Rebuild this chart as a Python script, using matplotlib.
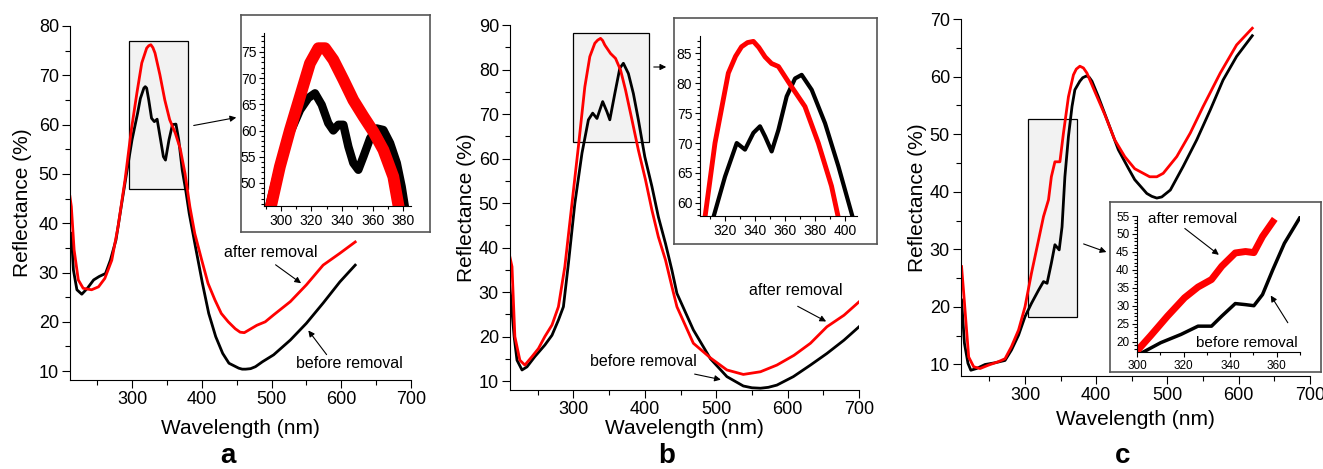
import matplotlib
matplotlib.use("Agg")
import matplotlib.pyplot as plt
from matplotlib.patches import Rectangle, FancyArrowPatch
from matplotlib.ticker import MultipleLocator

plt.rcParams['font.family'] = ['Liberation Sans', 'DejaVu Sans']

# ---- panel a ----
a_before_wl = [211, 213, 216, 221, 228, 236, 245, 253, 262, 269, 277, 286, 293, 300, 308, 312, 317, 319, 321,
               324, 328, 332, 336, 341, 345, 348, 353, 358, 363, 367, 372, 377, 382, 391, 401, 410, 420,
               430, 439, 453, 458, 463, 470, 477, 487, 503, 527, 550, 574, 598, 620]
a_before = [35, 38, 30.5, 26.5, 25.6, 26.8, 28.5, 29.2, 29.8, 32.5, 36.6, 44.7, 50.8, 56.9, 62.3, 65.3, 67.4, 67.7,
            67.4, 65, 61.3, 60.6, 61.1, 56.9, 53.5, 52.8, 56.9, 60, 60.1, 56.9, 50.8, 46.7, 42, 35.2, 27.8, 21.7,
            17, 13.6, 11.6, 10.6, 10.4, 10.4, 10.5, 10.9, 11.9, 13.3, 16.3, 19.7, 23.8, 28.1, 31.5]
a_after_wl = [211, 213, 217, 223, 230, 242, 252, 261, 271, 280, 290, 299, 307, 314, 321, 324, 327, 330, 333,
              340, 347, 354, 362, 369, 376, 383, 390, 400, 409, 419, 428, 438, 448, 455, 461, 467, 479, 491,
              503, 527, 550, 574, 598, 620]
a_after = [45.4, 43.4, 34.6, 28.5, 26.8, 26.5, 27.1, 28.8, 32.5, 39.3, 48.8, 58.9, 66.4, 72.5, 75.5, 76.0, 76.2,
           75.6, 74.5, 70.1, 65, 61, 58.3, 55.2, 50.1, 43.3, 37.9, 32.5, 27.8, 24.4, 21.7, 20, 18.6, 17.9, 17.8,
           18.3, 19.3, 20, 21.4, 24.1, 27.5, 31.5, 33.9, 36.2]
# inset a
ia_before_wl = [290, 299.3, 305.9, 312.5, 317.9, 322.3, 326.7, 331, 334.3, 337.6, 340.9, 344.2, 347.4, 350.7,
                354, 358.4, 362.7, 367.1, 371.5, 375.9, 379.1, 382]
ia_before = [43, 53.7, 59.5, 63.9, 66.2, 67.1, 64.9, 61.4, 60, 61.1, 61.1, 56.9, 53.8, 52.5, 55, 58.5, 60.4,
             60.1, 57.6, 53.8, 49.3, 44]
ia_after_wl = [291.5, 299.3, 305.9, 312.5, 319, 324.5, 328.9, 334.3, 340.9, 347.4, 354, 360.5, 367.1, 373.6, 378]
ia_after = [43, 53.1, 60.1, 66.5, 72.8, 75.7, 75.7, 73.5, 69.7, 65.8, 62.7, 59.8, 56.3, 51.2, 44]

# ---- panel b ----
b_before_wl = [211, 217, 221, 228, 235, 246, 260, 270, 279, 286, 293, 302, 312, 321, 327, 333, 341, 347, 351,
               358, 365, 370, 377, 384, 391, 400, 410, 419, 429, 438, 445, 468, 492, 515, 538, 550, 562, 573,
               585, 608, 632, 655, 679, 700]
b_before = [31.2, 20, 14.7, 12.5, 13.2, 15.5, 18.1, 20.3, 23.7, 26.7, 36.4, 49.9, 61.2, 68.7, 70.2, 69, 72.8,
            70.5, 68.7, 74.6, 80.3, 81.4, 79.1, 74.6, 68.7, 60.4, 53.7, 46.9, 40.9, 34.9, 29.7, 21.5, 15.0, 11,
            8.9, 8.5, 8.4, 8.6, 9.1, 11, 13.6, 16.2, 19.2, 22.2]
b_after_wl = [211, 214, 218, 225, 232, 242, 251, 260, 270, 279, 288, 298, 307, 316, 323, 330, 334, 338, 341,
              344, 352, 359, 366, 373, 382, 391, 401, 410, 419, 429, 438, 445, 468, 492, 515, 538, 562, 585,
              609, 632, 655, 679, 700]
b_after = [37.9, 35.7, 20, 14.7, 13.6, 15.5, 17.3, 20, 22.6, 26.7, 35.7, 49.9, 62.7, 76.1, 82.9, 85.9, 86.6, 87,
           86.5, 85.5, 83.6, 82.5, 79.9, 75.4, 68.7, 61.9, 55.2, 48.4, 42.4, 37.2, 31.2, 26.7, 18.5, 15.2, 12.5,
           11.5, 12.1, 13.6, 15.8, 18.5, 22.2, 24.8, 27.8]
# inset b
ib_before_wl = [311, 320, 327.8, 333.3, 338.9, 343.3, 346.7, 351.1, 355.6, 361.1, 366.7, 371.1, 377.8,
                386.7, 395.6, 406]
ib_before = [56.5, 64.4, 70, 68.9, 71.7, 72.8, 71.1, 68.6, 72.2, 77.8, 80.8, 81.4, 78.9, 73.3, 66.1, 56.8]
ib_after_wl = [305.5, 313.3, 322.2, 327, 331, 335, 338.9, 342.5, 346.7, 351, 355.6, 364.4, 373.3, 382.2, 391, 396]
ib_after = [55.5, 70, 81.7, 84.5, 86.1, 86.8, 87, 86, 84.4, 83.3, 82.8, 79.4, 76.1, 70, 62.8, 57]

# ---- panel c ----
c_before_wl = [211, 215, 220, 224, 232, 244, 258, 272, 281, 291, 300, 309, 319, 326, 331, 337, 342, 348, 352,
               356, 361, 366, 370, 377, 381, 386, 390, 394, 403, 417, 431, 445, 454, 471, 478, 485, 492, 504,
               522, 541, 560, 578, 597, 619]
c_before = [21.2, 13.7, 10.2, 9.0, 9.3, 10, 10.3, 10.7, 12.5, 15.1, 18.3, 20.6, 22.9, 24.4, 24.1, 27.6, 30.8,
            29.9, 33.9, 42.6, 49.6, 54.8, 57.7, 59.2, 59.8, 60.1, 59.9, 59.2, 56.5, 51.9, 47.3, 44.1, 42.1,
            39.7, 39.2, 38.9, 39.1, 40.3, 44.4, 49, 54.2, 59.4, 63.5, 67.1]
c_after_wl = [211, 214, 218, 221, 228, 237, 249, 263, 272, 281, 291, 300, 309, 319, 326, 333, 337, 342, 349,
              354, 361, 368, 372, 377, 382, 387, 398, 412, 426, 440, 454, 475, 485, 494, 513, 532, 550, 574,
              597, 619]
c_after = [27, 22.4, 16, 11.3, 9.6, 9.3, 9.9, 10.5, 11, 13.1, 16, 20, 25.8, 31.6, 35.7, 38.6, 42.6, 45.2, 45.2,
           50.2, 56.5, 60.3, 61.3, 61.8, 61.5, 60.6, 57.4, 53.4, 49, 46.1, 44, 42.6, 42.6, 43.2, 46.1, 50.2,
           54.8, 60.6, 65.5, 68.4]
# inset c
ic_before_wl = [301, 303.6, 310.2, 318.9, 326.2, 332, 336.4, 342.2, 346.6, 350.2, 353.9, 358.3, 363.3, 369.9]
ic_before = [16.5, 17.4, 19.7, 22, 24.3, 24.3, 27.1, 30.6, 30.3, 30, 33.1, 40, 47.4, 54.5]
ic_after_wl = [300.7, 305.8, 313.1, 320.4, 326.2, 332, 336.4, 342.2, 346.6, 350.2, 353.9, 358.3]
ic_after = [17.9, 21.6, 27.1, 32.2, 35.2, 37.3, 41, 44.7, 45.1, 44.8, 49.3, 53.4]

W, H = 1323, 469
fig = plt.figure(figsize=(W / 100, H / 100), dpi=100)


def px(left, top, right, bottom):
    return [left / W, 1 - bottom / H, (right - left) / W, (bottom - top) / H]


def fxy(x, y):
    return (x / W, 1 - y / H)


def style(ax, tick_size, major=5, minor=3):
    for s in ['top', 'right']:
        ax.spines[s].set_visible(False)
    ax.tick_params(which='both', direction='out', width=0.8, labelsize=tick_size, pad=2)
    ax.tick_params(which='major', length=major)
    ax.tick_params(which='minor', length=minor)


def main_panel(rect, xlim, ylim, maxy, xpad, ypad):
    ax = fig.add_axes(px(*rect))
    ax.set_xlim(*xlim)
    ax.set_ylim(*ylim)
    ax.set_xticks(range(300, 701, 100))
    ax.set_yticks(range(10, maxy + 1, 10))
    ax.xaxis.set_minor_locator(MultipleLocator(50))
    ax.yaxis.set_minor_locator(MultipleLocator(5))
    style(ax, 13, 6, 3.5)
    ax.set_xlabel('Wavelength (nm)', fontsize=15, labelpad=xpad)
    ax.set_ylabel('Reflectance (%)', fontsize=15, labelpad=ypad)
    return ax


def inset(box, rect, xlim, ylim, xt, yt, size, yminor):
    bx = fig.add_axes(px(*box), zorder=2)
    bx.set_xticks([])
    bx.set_yticks([])
    for s in bx.spines.values():
        s.set_color('#555555')
        s.set_linewidth(1.2)
    ax = fig.add_axes(px(*rect), zorder=3)
    ax.patch.set_alpha(0)
    ax.set_xlim(*xlim)
    ax.set_ylim(*ylim)
    ax.set_xticks(xt)
    ax.set_yticks(yt)
    ax.xaxis.set_minor_locator(MultipleLocator(10))
    ax.yaxis.set_minor_locator(MultipleLocator(yminor))
    style(ax, size, 3.5, 2)
    return ax


def arrow(ax, tail, tip, coords='data'):
    ax.annotate('', xy=tip, xytext=tail, xycoords=coords, textcoords=coords,
                arrowprops=dict(arrowstyle='-|>', color='black', lw=0.8, mutation_scale=9))


# ---------- a ----------
ax = main_panel((70, 26, 411, 380), (211.1, 700), (8.2, 80), 80, 7.5, 5)
ax.add_patch(Rectangle((295.7, 46.9), 85, 30.1, facecolor='#f2f2f2', edgecolor='black', lw=0.9, zorder=0))
ax.plot(a_before_wl, a_before, color='black', lw=2.0)
ax.plot(a_after_wl, a_after, color='#ff0000', lw=2.0)
ax.text(498.6, 34, 'after removal', fontsize=11.5, ha='center', va='center')
arrow(ax, (502.6, 31.9), (545.6, 27.5))
ax.text(611, 11.6, 'before removal', fontsize=11.5, ha='center', va='center')
arrow(ax, (581.4, 12.9), (550.4, 18.7))

ins = inset((241, 15, 430, 232), (264, 33, 411, 206), (288.9, 385.2), (45.6, 78.6),
            range(300, 381, 20), range(50, 76, 5), 10, 1)
ins.plot(ia_before_wl, ia_before, color='black', lw=6)
ins.plot(ia_after_wl, ia_after, color='#ff0000', lw=8.5)

# ---------- b ----------
ax = main_panel((510, 25, 859, 390), (211.2, 700), (8.0, 90), 90, 1, 2)
ax.add_patch(Rectangle((300, 63.8), 106.1, 24.5, facecolor='#f2f2f2', edgecolor='black', lw=0.9, zorder=0))
ax.plot(b_before_wl, b_before, color='black', lw=2.0)
ax.plot(b_after_wl, b_after, color='#ff0000', lw=2.0)
ax.text(610.8, 30.4, 'after removal', fontsize=11.5, ha='center', va='center')
arrow(ax, (610.7, 27.1), (657.4, 23.1))
ax.text(398.1, 14.5, 'before removal', fontsize=11.5, ha='center', va='center')
arrow(ax, (466, 11.7), (510.3, 10.2))

ins = inset((674, 18, 877, 244), (700, 36, 857, 216), (303.3, 408), (57.8, 87.9),
            range(320, 401, 20), range(60, 86, 5), 10, 1)
ins.plot(ib_before_wl, ib_before, color='black', lw=3)
ins.plot(ib_after_wl, ib_after, color='#ff0000', lw=3.5)

# ---------- c ----------
ax = main_panel((961, 19, 1310, 376), (210.2, 700), (8.0, 70), 70, 4, 2)
ax.add_patch(Rectangle((304.7, 18.2), 68.8, 34.4, facecolor='#f2f2f2', edgecolor='black', lw=0.9, zorder=0))
ax.plot(c_before_wl, c_before, color='black', lw=2.0)
ax.plot(c_after_wl, c_after, color='#ff0000', lw=2.0)

ins = inset((1110, 202, 1321, 372), (1137, 216, 1300, 352), (300, 370), (17.1, 55),
            range(300, 361, 20), range(20, 56, 5), 8.5, 1)
ins.plot(ic_before_wl, ic_before, color='black', lw=2.5)
ins.plot(ic_after_wl, ic_after, color='#ff0000', lw=5)
ins.text(324, 54.2, 'after removal', fontsize=11, ha='center', va='center')
arrow(ins, (319.6, 52), (336.1, 43.7))
ins.text(347.1, 19.5, 'before removal', fontsize=11, ha='center', va='center')
arrow(ins, (365.4, 24.6), (356.8, 33.5))

# connector arrows from zoom boxes to insets
for tail, tip in [((191, 126), (239, 117)), ((651, 67), (669, 67)), ((1081, 243), (1109, 253))]:
    fig.add_artist(FancyArrowPatch(fxy(*tail), fxy(*tip), transform=fig.transFigure,
                                   arrowstyle='-|>', color='black', lw=0.8, mutation_scale=9, zorder=5))

for letter, x in [('a', 228), ('b', 667), ('c', 1123)]:
    fig.text(*fxy(x, 463), letter, fontsize=20, fontweight='bold', ha='center', va='baseline')

fig.savefig('out.png', dpi=100)
